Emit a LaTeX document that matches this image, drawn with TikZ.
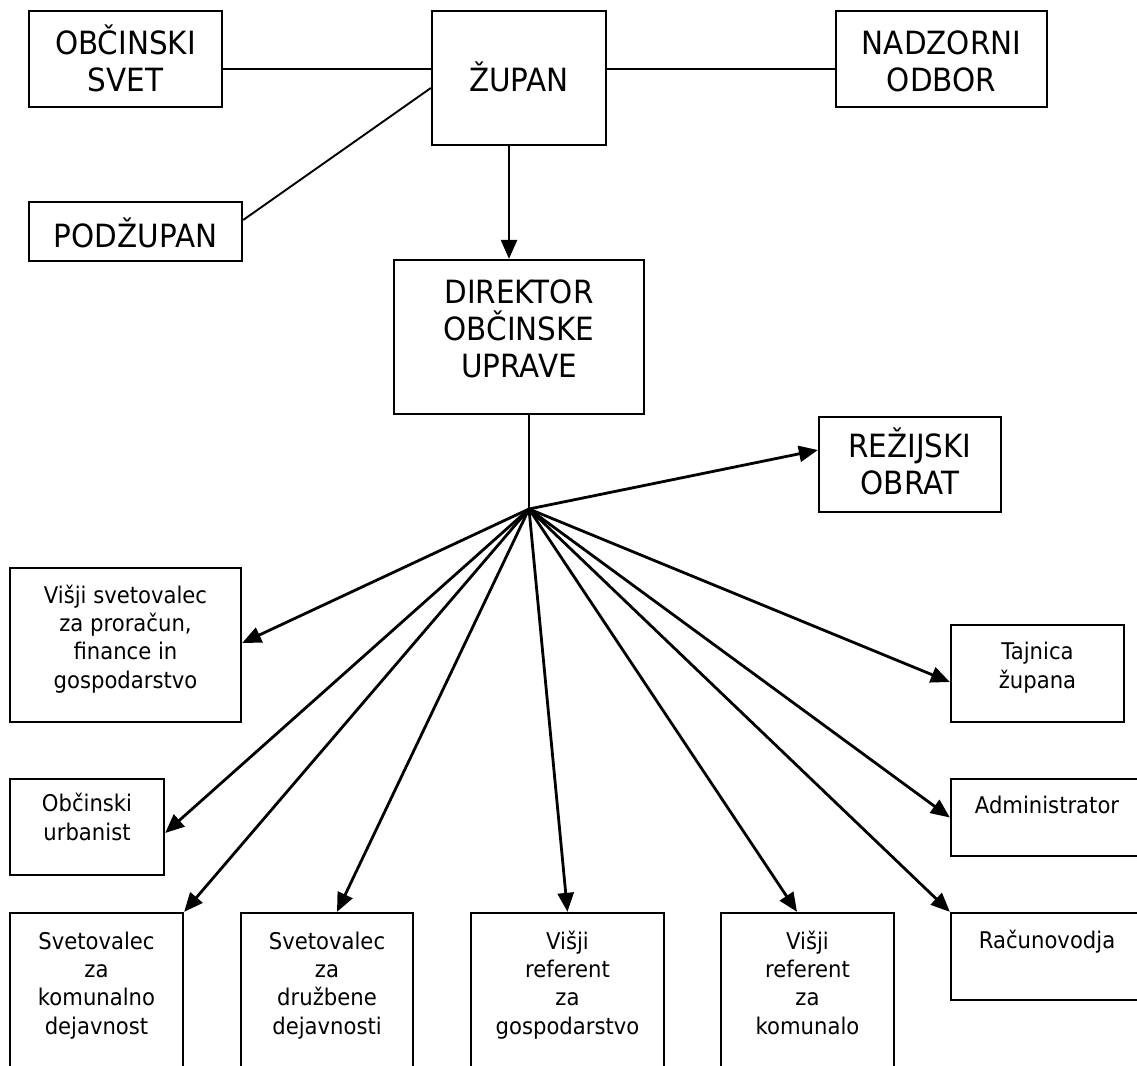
\documentclass[tikz,border=0pt]{standalone}
\usepackage{fontspec}
\setmainfont{DejaVu Sans}[FakeStretch=0.92]
\usetikzlibrary{arrows.meta}
\tikzset{
  head/.style={
    rectangle,
    draw,
    line width=2.3pt,
    align=center,
    inner sep=0pt,
    font=\fontsize{32}{37}\selectfont
  },
  staff/.style={
    rectangle,
    draw,
    line width=2.3pt,
    align=center,
    inner sep=0pt,
    font=\fontsize{23}{28.3}\selectfont
  },
  lift/.style={text height=0pt, text depth=#1},
  drop/.style={text height=#1, text depth=0pt},
  link/.style={line width=1.9pt},
  trunk/.style={line width=2.8pt},
  arrow/.style={-{Triangle[length=19pt, width=16pt]}, line width=2.8pt}
}

\begin{document}
\begin{tikzpicture}[x=1pt, y=-1pt]
  \useasboundingbox (0,0) rectangle (1137,1065);
  \clip (0,0) rectangle (1137,1065);

  % top row
  \node[head, drop=66pt, minimum width=193pt, minimum height=96pt] (svet) at (125.5,59) {OBČINSKI\\SVET};
  \node[head, drop=26pt, minimum width=174pt, minimum height=134pt] (zupan) at (519,78) {ŽUPAN};
  \node[head, drop=66pt, minimum width=211pt, minimum height=96pt] (nadzor) at (941.5,59) {NADZORNI\\ODBOR};
  \node[head, drop=31pt, minimum width=213pt, minimum height=59pt] (podzupan) at (135.5,231.5) {PODŽUPAN};

  \node[head, drop=80pt, minimum width=250pt, minimum height=154pt] (direktor) at (519,337) {DIREKTOR\\OBČINSKE\\UPRAVE};
  \node[head, drop=60pt, minimum width=182pt, minimum height=95pt] (rezijski) at (910,464.5) {REŽIJSKI\\OBRAT};

  % staff
  \node[staff, drop=86pt, minimum width=231pt, minimum height=154pt] (finance) at (125.5,645) {Višji svetovalec\\za proračun,\\finance in\\gospodarstvo};
  \node[staff, drop=26pt, minimum width=154pt, minimum height=96pt] (urbanist) at (87,827) {Občinski\\urbanist};
  \node[staff, drop=29pt, minimum width=173pt, minimum height=97pt] (tajnica) at (1037.5,673.5) {Tajnica\\\v{z}upana};
  \node[staff, lift=9pt, minimum width=192pt, minimum height=77pt] (admin) at (1047,817.5) {Administrator};
  \node[staff, lift=17pt, minimum width=192pt, minimum height=87pt] (racunovodja) at (1047,956.5) {Računovodja};

  \node[staff, drop=87pt, minimum width=173pt, minimum height=155pt] (komunala) at (96.5,990.5) {Svetovalec\\za\\komunalno\\dejavnost};
  \node[staff, drop=87pt, minimum width=172pt, minimum height=155pt] (druzbene) at (327,990.5) {Svetovalec\\za\\družbene\\dejavnosti};
  \node[staff, drop=87pt, minimum width=193pt, minimum height=155pt] (gospodarstvo) at (567.5,990.5) {Višji\\referent\\za\\gospodarstvo};
  \node[staff, drop=87pt, minimum width=173pt, minimum height=155pt] (komunalo) at (807.5,990.5) {Višji\\referent\\za\\komunalo};

  \coordinate (hub) at (529,509);

  \draw[link] ([yshift=-10pt]svet.east) -- ([yshift=-10pt]svet.east -| zupan.west);
  \draw[link] ([yshift=-10pt]nadzor.west) -- ([yshift=-10pt]nadzor.west -| zupan.east);
  \draw[link] ([yshift=11.5pt]podzupan.east) -- ([yshift=-10pt]zupan.west);
  \draw[arrow] ([xshift=-10pt]zupan.south) -- ([xshift=-10pt]direktor.north);
  \draw[trunk] ([xshift=10pt]direktor.south) -- (hub);

  \draw[arrow] (hub) -- ([yshift=14.5pt]rezijski.west);
  \draw[arrow] (hub) -- ([yshift=2pt]finance.east);
  \draw[arrow] (hub) -- ([yshift=-6pt]urbanist.east);
  \draw[arrow] (hub) -- (komunala.north east);
  \draw[arrow] (hub) -- ([xshift=10pt]druzbene.north);
  \draw[arrow] (hub) -- (gospodarstvo.north);
  \draw[arrow] (hub) -- ([xshift=-10.5pt]komunalo.north);
  \draw[arrow] (hub) -- (racunovodja.north west);
  \draw[arrow] (hub) -- (admin.west);
  \draw[arrow] (hub) -- ([yshift=-8.5pt]tajnica.west);
\end{tikzpicture}
\end{document}
